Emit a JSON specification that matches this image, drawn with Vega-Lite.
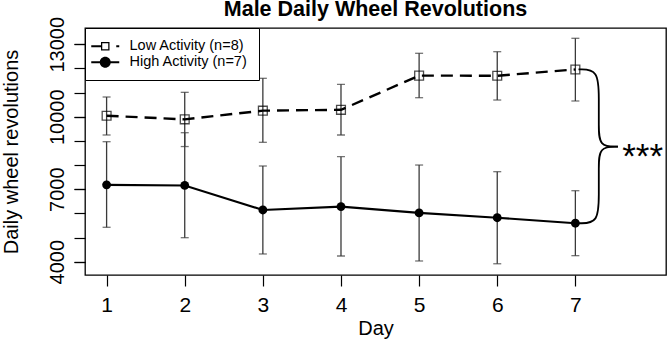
{
  "$schema": "https://vega.github.io/schema/vega-lite/v6.json",
  "width": 581,
  "height": 247,
  "autosize": {"type": "none"},
  "padding": {"left": 85, "top": 28, "right": 3, "bottom": 67},
  "background": "white",
  "title": {
    "text": "Male Daily Wheel Revolutions",
    "font": "Liberation Sans",
    "fontSize": 21.5,
    "fontWeight": "bold",
    "color": "black",
    "anchor": "middle",
    "frame": "group",
    "offset": -4.5
  },
  "config": {
    "view": {"stroke": "black", "strokeWidth": 1.3},
    "font": "Liberation Sans",
    "axis": {
      "domain": false,
      "grid": false,
      "ticks": true,
      "tickColor": "black",
      "tickWidth": 1.2,
      "tickSize": 11,
      "labelColor": "black",
      "titleColor": "black",
      "labelFont": "Liberation Sans",
      "titleFont": "Liberation Sans",
      "titleFontWeight": "normal",
      "labelFlush": false
    }
  },
  "resolve": {"axis": {"y": "independent"}},
  "datasets": {
    "means": [
      {"day": 1, "group": "Low Activity (n=8)", "mean": 10040, "lo": 9243, "hi": 10815},
      {"day": 2, "group": "Low Activity (n=8)", "mean": 9890, "lo": 8765, "hi": 11008},
      {"day": 3, "group": "Low Activity (n=8)", "mean": 10250, "lo": 8940, "hi": 11588},
      {"day": 4, "group": "Low Activity (n=8)", "mean": 10285, "lo": 9243, "hi": 11340},
      {"day": 5, "group": "Low Activity (n=8)", "mean": 11700, "lo": 10786, "hi": 12623},
      {"day": 6, "group": "Low Activity (n=8)", "mean": 11695, "lo": 10690, "hi": 12690},
      {"day": 7, "group": "Low Activity (n=8)", "mean": 11955, "lo": 10650, "hi": 13244},
      {"day": 1, "group": "High Activity (n=7)", "mean": 7180, "lo": 5424, "hi": 8966},
      {"day": 2, "group": "High Activity (n=7)", "mean": 7155, "lo": 4994, "hi": 9338},
      {"day": 3, "group": "High Activity (n=7)", "mean": 6140, "lo": 4320, "hi": 7960},
      {"day": 4, "group": "High Activity (n=7)", "mean": 6280, "lo": 4236, "hi": 8345},
      {"day": 5, "group": "High Activity (n=7)", "mean": 6020, "lo": 4030, "hi": 8000},
      {"day": 6, "group": "High Activity (n=7)", "mean": 5820, "lo": 3915, "hi": 7725},
      {"day": 7, "group": "High Activity (n=7)", "mean": 5592, "lo": 4250, "hi": 6938}
    ],
    "brace": [
      {"part": "upper", "seq": 1, "day": 7.04, "value": 11955},
      {"part": "upper", "seq": 2, "day": 7.3, "value": 11955},
      {"part": "upper", "seq": 3, "day": 7.3, "value": 10700},
      {"part": "upper", "seq": 4, "day": 7.3, "value": 9650},
      {"part": "upper", "seq": 5, "day": 7.3, "value": 8759},
      {"part": "upper", "seq": 6, "day": 7.545, "value": 8759},
      {"part": "lower", "seq": 1, "day": 7.545, "value": 8759},
      {"part": "lower", "seq": 2, "day": 7.3, "value": 8759},
      {"part": "lower", "seq": 3, "day": 7.3, "value": 7870},
      {"part": "lower", "seq": 4, "day": 7.3, "value": 6800},
      {"part": "lower", "seq": 5, "day": 7.3, "value": 5592},
      {"part": "lower", "seq": 6, "day": 7.04, "value": 5592}
    ]
  },
  "layer": [
    {
      "data": {"name": "means"},
      "mark": {"type": "rule", "color": "#3a3a3a", "strokeWidth": 1.3},
      "encoding": {
        "x": {
          "field": "day",
          "type": "quantitative",
          "scale": {"domain": [0.7235, 8.16], "nice": false, "zero": false},
          "axis": {
            "title": "Day",
            "values": [1, 2, 3, 4, 5, 6, 7],
            "format": "d",
            "labelOverlap": false,
            "labelFontSize": 21,
            "labelPadding": 8,
            "titleFontSize": 20,
            "titlePadding": 3
          }
        },
        "y": {
          "field": "lo",
          "type": "quantitative",
          "scale": {"domain": [3450, 13670], "nice": false, "zero": false},
          "axis": {
            "orient": "left",
            "title": "Daily wheel revolutions",
            "values": [4000, 7000, 10000, 13000],
            "format": "d",
            "labelOverlap": false,
            "labelAngle": 270,
            "labelFontSize": 20,
            "labelPadding": 7,
            "titleFontSize": 20,
            "titlePadding": 26
          }
        },
        "y2": {"field": "hi"}
      }
    },
    {
      "data": {"name": "means"},
      "mark": {"type": "tick", "orient": "horizontal", "color": "#3a3a3a", "size": 8, "thickness": 1.3},
      "encoding": {
        "x": {"field": "day", "type": "quantitative"},
        "y": {
          "field": "lo",
          "type": "quantitative",
          "axis": {
            "orient": "left",
            "title": null,
            "labels": false,
            "values": [4000, 5000, 6000, 7000, 8000, 9000, 10000, 11000, 12000, 13000]
          }
        }
      }
    },
    {
      "data": {"name": "means"},
      "mark": {"type": "tick", "orient": "horizontal", "color": "#3a3a3a", "size": 8, "thickness": 1.3},
      "encoding": {
        "x": {"field": "day", "type": "quantitative"},
        "y": {"field": "hi", "type": "quantitative", "axis": null}
      }
    },
    {
      "data": {"name": "means"},
      "transform": [{"filter": "datum.group === 'Low Activity (n=8)'"}],
      "mark": {"type": "line", "color": "black", "strokeWidth": 2.4, "strokeDash": [12, 7]},
      "encoding": {
        "x": {"field": "day", "type": "quantitative"},
        "y": {"field": "mean", "type": "quantitative", "axis": null}
      }
    },
    {
      "data": {"name": "means"},
      "transform": [{"filter": "datum.group === 'High Activity (n=7)'"}],
      "mark": {"type": "line", "color": "black", "strokeWidth": 2.1},
      "encoding": {
        "x": {"field": "day", "type": "quantitative"},
        "y": {"field": "mean", "type": "quantitative", "axis": null}
      }
    },
    {
      "data": {"name": "brace"},
      "mark": {"type": "line", "color": "black", "strokeWidth": 1.8, "interpolate": "basis"},
      "encoding": {
        "x": {"field": "day", "type": "quantitative"},
        "y": {"field": "value", "type": "quantitative", "axis": null},
        "detail": {"field": "part", "type": "nominal"},
        "order": {"field": "seq", "type": "quantitative"}
      }
    },
    {
      "data": {"values": [{}]},
      "mark": {"type": "text", "text": "***", "font": "Liberation Sans", "fontSize": 35, "align": "left", "baseline": "alphabetic", "dy": 21, "color": "black"},
      "encoding": {
        "x": {"datum": 7.6, "type": "quantitative"},
        "y": {"datum": 8759, "type": "quantitative", "axis": null}
      }
    },
    {
      "data": {"name": "means"},
      "transform": [{"filter": "datum.group === 'Low Activity (n=8)'"}],
      "mark": {"type": "point", "shape": "square", "size": 78, "filled": false, "color": "black", "strokeWidth": 1.3},
      "encoding": {
        "x": {"field": "day", "type": "quantitative"},
        "y": {"field": "mean", "type": "quantitative", "axis": null}
      }
    },
    {
      "data": {"name": "means"},
      "transform": [{"filter": "datum.group === 'High Activity (n=7)'"}],
      "mark": {"type": "point", "shape": "circle", "size": 78, "filled": true, "color": "black", "opacity": 1},
      "encoding": {
        "x": {"field": "day", "type": "quantitative"},
        "y": {"field": "mean", "type": "quantitative", "axis": null}
      }
    },
    {
      "data": {"name": "means"},
      "mark": {"type": "point", "opacity": 0, "stroke": "black", "strokeWidth": 0},
      "encoding": {
        "x": {"field": "day", "type": "quantitative"},
        "y": {"field": "mean", "type": "quantitative", "axis": null},
        "shape": {
          "field": "group",
          "type": "nominal",
          "scale": {
            "domain": ["Low Activity (n=8)", "High Activity (n=7)"],
            "range": [
              "M-2.8,-0.2H-0.85V0.2H-2.8ZM2.2,-0.2H2.8V0.2H2.2ZM-0.85,-0.85H0.85V0.85H-0.85ZM-0.6,-0.6V0.6H0.6V-0.6Z",
              "M-2.8,-0.2H2.8V0.2H-2.8ZM1.1,0A1.1,1.1,0,1,1,-1.1,0A1.1,1.1,0,1,1,1.1,0Z"
            ]
          },
          "legend": {
            "title": null,
            "orient": "top-left",
            "offset": 0,
            "padding": 11,
            "strokeColor": "black",
            "fillColor": "white",
            "labelFont": "Liberation Sans",
            "labelFontSize": 14.5,
            "labelColor": "black",
            "symbolSize": 100,
            "symbolOffset": 2,
            "labelOffset": 17,
            "rowPadding": 1,
            "symbolOpacity": 1,
            "symbolStrokeWidth": 0,
            "symbolStrokeColor": "black"
          }
        },
        "fill": {
          "field": "group",
          "type": "nominal",
          "scale": {"domain": ["Low Activity (n=8)", "High Activity (n=7)"], "range": ["black", "black"]},
          "legend": {
            "title": null,
            "orient": "top-left",
            "offset": 0,
            "padding": 11,
            "strokeColor": "black",
            "fillColor": "white",
            "labelFont": "Liberation Sans",
            "labelFontSize": 14.5,
            "labelColor": "black",
            "symbolSize": 100,
            "symbolOffset": 2,
            "labelOffset": 17,
            "rowPadding": 1,
            "symbolOpacity": 1,
            "symbolStrokeWidth": 0,
            "symbolStrokeColor": "black"
          }
        }
      }
    }
  ]
}
